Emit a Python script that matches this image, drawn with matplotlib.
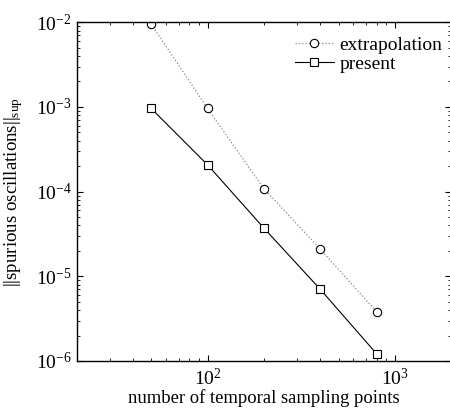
import matplotlib
matplotlib.use("Agg")
import matplotlib.pyplot as plt
from matplotlib.ticker import LogLocator, NullFormatter

plt.rcParams['font.family'] = ['Liberation Serif', 'DejaVu Serif']
plt.rcParams['mathtext.fontset'] = 'custom'
plt.rcParams['mathtext.rm'] = 'Liberation Serif'
plt.rcParams['mathtext.it'] = 'Liberation Serif:italic'
plt.rcParams['mathtext.bf'] = 'Liberation Serif:bold'

# number of temporal sampling points
n_points = [50, 100, 200, 400, 800]
# sup-norm of spurious oscillations
err_extrapolation = [9.5e-3, 9.6e-4, 1.08e-4, 2.09e-5, 3.8e-6]
err_present = [9.6e-4, 2.07e-4, 3.7e-5, 7.0e-6, 1.21e-6]

fig = plt.figure(figsize=(4.5, 4.09), dpi=100)
ax = fig.add_axes([76.7 / 450, 48 / 409, 374.6 / 450, 338.7 / 409])

ax.loglog(n_points, err_extrapolation, linestyle=':', color='#888888', linewidth=0.9,
          marker='o', markersize=6, markerfacecolor='white', markeredgecolor='black',
          markeredgewidth=0.8, label='extrapolation')
ax.loglog(n_points, err_present, linestyle='-', color='black', linewidth=0.8,
          marker='s', markersize=5.5, markerfacecolor='white', markeredgecolor='black',
          markeredgewidth=0.8, label='present')

ax.set_xlim(20, 2000)
ax.set_ylim(1e-6, 1e-2)

ax.xaxis.set_major_locator(LogLocator(base=10, numticks=10))
ax.yaxis.set_major_locator(LogLocator(base=10, numticks=10))
ax.xaxis.set_minor_locator(LogLocator(base=10, subs=range(2, 10), numticks=20))
ax.yaxis.set_minor_locator(LogLocator(base=10, subs=range(2, 10), numticks=20))
ax.xaxis.set_minor_formatter(NullFormatter())
ax.yaxis.set_minor_formatter(NullFormatter())

ax.tick_params(which='both', direction='in', top=True, right=True, labelsize=14)
ax.tick_params(axis='x', which='major', pad=5)
ax.tick_params(which='major', length=4, width=0.8)
ax.tick_params(which='minor', length=2, width=0.6)
for s in ax.spines.values():
    s.set_linewidth(1.0)

ax.set_xlabel('number of temporal sampling points', fontsize=13.4, labelpad=0)
ax.set_ylabel(r'||spurious oscillations||$_{\mathrm{sup}}$', fontsize=13.6, labelpad=7.5)

ax.legend(loc='upper right', bbox_to_anchor=(1.013, 1.0), frameon=False, fontsize=14,
          handlelength=2.0, handletextpad=0.3, labelspacing=0.1, borderaxespad=0.3)

fig.savefig('out.png', dpi=100)
